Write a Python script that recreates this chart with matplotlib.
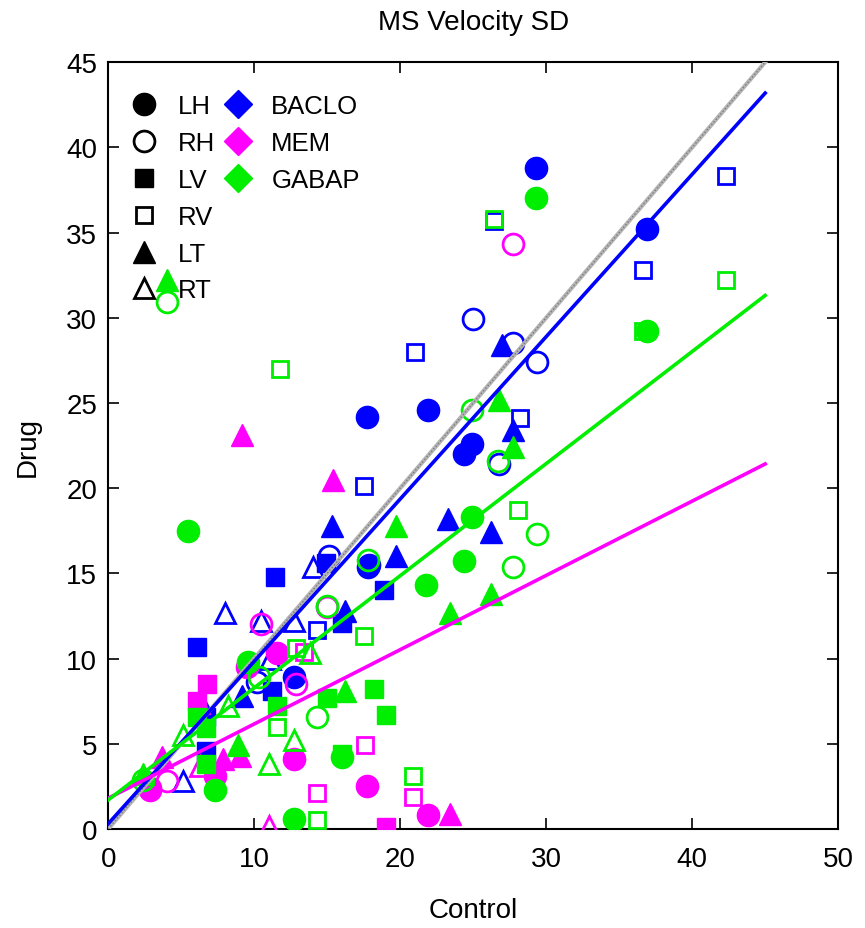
import numpy as np
import matplotlib.pyplot as plt
from matplotlib.lines import Line2D

plt.rcParams['font.family'] = ['Liberation Sans', 'DejaVu Sans']

# control, drug pairs
BACLO = {
    'LH': [(29.3, 38.8), (36.9, 35.2), (17.7, 24.2), (21.9, 24.6), (24.9, 22.6), (24.4, 22.0),
           (17.9, 15.5), (12.7, 8.9)],
    'RH': [(25.0, 29.9), (27.7, 28.5), (29.4, 27.4), (26.8, 21.4), (15.1, 16.0), (17.8, 15.4),
           (10.2, 8.6)],
    'LV': [(6.1, 10.7), (11.4, 14.8), (11.2, 8.1), (6.7, 6.6), (6.7, 4.6), (18.9, 14.0),
           (14.9, 15.6), (16.0, 12.1)],
    'RV': [(42.3, 38.3), (36.6, 32.8), (26.4, 35.7), (21.0, 28.0), (17.5, 20.1), (28.2, 24.1),
           (14.3, 11.7)],
    'LT': [(27.0, 28.4), (15.3, 17.8), (19.7, 16.0), (23.3, 18.2), (26.2, 17.4), (27.7, 23.4),
           (16.2, 12.8), (9.2, 7.8)],
    'RT': [(8.0, 12.7), (10.5, 12.2), (12.7, 12.2), (14.0, 15.4), (5.1, 2.8), (6.3, 7.5),
           (11.1, 10.0)],
}
MEM = {
    'LH': [(17.7, 2.5), (21.9, 0.8), (12.7, 4.1), (7.3, 3.1), (9.5, 9.5), (11.6, 10.3), (2.9, 2.4)],
    'RH': [(27.7, 34.3), (15.0, 13.0), (10.5, 12.0), (12.9, 8.5), (4.0, 2.8), (2.9, 2.3)],
    'LV': [(6.8, 8.5), (6.1, 7.5), (19.0, 0.1)],
    'RV': [(17.6, 4.9), (20.9, 1.9), (14.3, 2.1), (13.4, 10.4)],
    'LT': [(9.2, 23.1), (15.4, 20.5), (23.4, 0.9), (9.0, 4.3), (7.9, 4.1), (3.7, 4.2), (6.2, 7.4)],
    'RT': [(11.0, 0.2), (6.3, 3.7)],
}
GABAP = {
    'LH': [(29.3, 37.0), (36.9, 29.2), (5.5, 17.5), (24.9, 18.3), (24.4, 15.7), (21.8, 14.3),
           (16.0, 4.2), (12.7, 0.6), (7.3, 2.3), (9.6, 9.8)],
    'RH': [(4.0, 30.9), (24.9, 24.6), (26.7, 21.6), (17.8, 15.8), (29.4, 17.3), (27.7, 15.4),
           (14.3, 6.6), (15.0, 13.1), (10.3, 8.9), (2.4, 2.9)],
    'LV': [(18.2, 8.2), (19.0, 6.7), (15.0, 7.7), (16.0, 4.4), (6.7, 5.9), (6.7, 3.8),
           (6.1, 6.6), (11.6, 7.2)],
    'RV': [(42.3, 32.2), (36.6, 29.2), (26.4, 35.8), (11.8, 27.0), (28.1, 18.7), (17.5, 11.3),
           (20.9, 3.1), (14.3, 0.5), (11.6, 6.0), (12.9, 10.6)],
    'LT': [(4.0, 32.2), (26.8, 25.2), (27.7, 22.4), (19.7, 17.8), (23.4, 12.7), (26.2, 13.8),
           (16.2, 8.1), (8.9, 4.9), (2.4, 3.2)],
    'RT': [(12.7, 5.2), (11.0, 3.8), (5.1, 5.5), (13.8, 10.3), (8.2, 7.2)],
}

drugs = ['BACLO', 'MEM', 'GABAP']
drug_data = [BACLO, MEM, GABAP]
drug_colors = ['#0000ff', '#ff00ff', '#00ee00']
# regression lines: intercept, slope
fit_intercept = [0.3, 1.8, 1.7]
fit_slope = [0.953, 0.436, 0.658]

conds = ['LH', 'RH', 'LV', 'RV', 'LT', 'RT']
cond_marker = {'LH': 'o', 'RH': 'o', 'LV': 's', 'RV': 's', 'LT': '^', 'RT': '^'}
cond_filled = {'LH': True, 'RH': False, 'LV': True, 'RV': False, 'LT': True, 'RT': False}
cond_size = {'o': 16, 's': 12.5, '^': 16}

fig = plt.figure(figsize=(8.65, 9.29), dpi=100)
ax = fig.add_axes([0.125, 0.1066, 0.844, 0.8254])

for data, col in zip(drug_data, drug_colors):
    for c in conds:
        pts = np.array(data[c])
        m = cond_marker[c]
        if cond_filled[c]:
            ax.plot(pts[:, 0], pts[:, 1], m, ls='none', color=col, ms=cond_size[m],
                    mec=col, mfc=col, zorder=3)
        else:
            ax.plot(pts[:, 0], pts[:, 1], m, ls='none', ms=cond_size[m] - 1,
                    mec=col, mfc='none', mew=2, zorder=3)

xx = np.array([0, 45])
ax.plot(xx, xx, color='#b4b4b4', lw=3, zorder=4)
ax.plot(xx, xx, color='#7a7a7a', lw=1, ls=(0, (1, 1.5)), zorder=4)
for b, s, col in zip(fit_intercept, fit_slope, drug_colors):
    ax.plot(xx, b + s * xx, color=col, lw=2.6, zorder=5)

ax.set_xlim(0, 50)
ax.set_ylim(0, 45)
ax.set_xticks(np.arange(0, 51, 10))
ax.set_yticks(np.arange(0, 46, 5))
ax.tick_params(direction='in', top=True, right=True, labelsize=20, length=8, width=1.2)
ax.tick_params(axis='x', pad=12)
ax.tick_params(axis='y', pad=8)
for sp in ax.spines.values():
    sp.set_linewidth(1.5)

ax.set_xlabel('Control', fontsize=20, labelpad=18)
ax.set_ylabel('Drug', fontsize=20, labelpad=18)
ax.set_title('MS Velocity SD', fontsize=20, pad=24)

handles = []
labels = []
for c in conds:
    m = cond_marker[c]
    if cond_filled[c]:
        h = Line2D([], [], marker=m, ls='none', color='k', ms=cond_size[m])
    else:
        h = Line2D([], [], marker=m, ls='none', mec='k', mfc='none', mew=2, ms=cond_size[m] - 1)
    handles.append(h)
    labels.append(c)
for d, col in zip(drugs, drug_colors):
    handles.append(Line2D([], [], marker='D', ls='none', color=col, ms=14))
    labels.append(d)
for i in range(3):
    handles.append(Line2D([], [], ls='none'))
    labels.append('')

ax.legend(handles, labels, ncol=2, loc='upper left', frameon=False, fontsize=18.5,
          handlelength=1.2, handletextpad=0.7, columnspacing=0.3, labelspacing=0.5,
          bbox_to_anchor=(0.0, 0.985), borderaxespad=0.4)

fig.savefig('out.png', dpi=100)
